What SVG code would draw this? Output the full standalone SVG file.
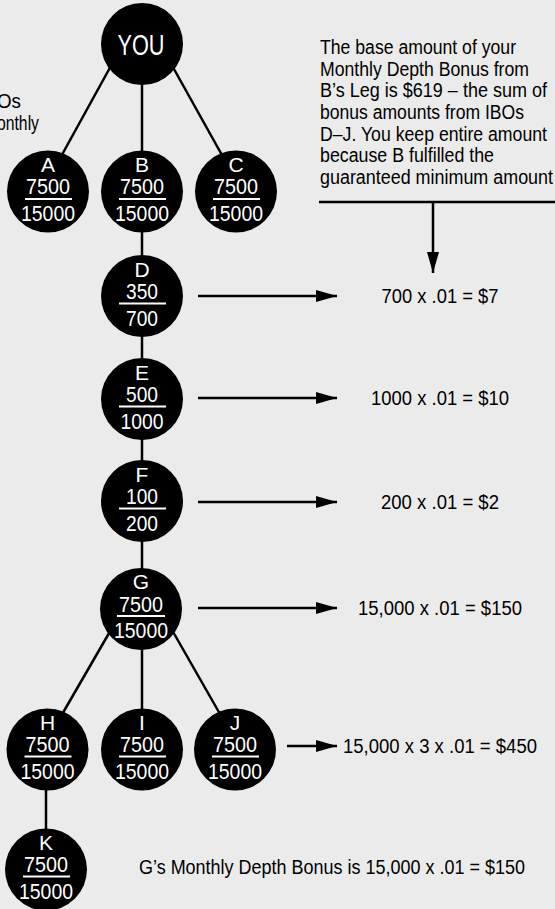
<svg xmlns="http://www.w3.org/2000/svg" width="555" height="909" viewBox="0 0 555 909">
<style>
.bg{fill:#ebebeb}
.node circle{fill:#000}
.lbl{font-family:"Liberation Sans",Arial,sans-serif;fill:#fff;text-anchor:middle;font-size:21px}
.num{font-family:"Liberation Sans",Arial,sans-serif;fill:#fff;text-anchor:middle;font-size:22px}
.bar{stroke:#fff;stroke-width:2}
.conn line{stroke:#000;stroke-width:2.5;fill:none}
.txt{font-family:"Liberation Sans",Arial,sans-serif;fill:#000;font-size:19.5px}
.mid{text-anchor:middle}
</style>
<defs>
<marker id="ah" markerUnits="userSpaceOnUse" markerWidth="21" markerHeight="12" refX="21" refY="6" orient="auto">
<path d="M0,0 L21,6 L0,12 z" fill="#000"/>
</marker>
</defs>
<rect class="bg" x="0" y="0" width="555" height="909"/>
<g id="connectors" class="conn">
<line x1="123" y1="44" x2="42" y2="191"/>
<line x1="142" y1="44" x2="142" y2="296"/>
<line x1="160" y1="44" x2="242" y2="191"/>
<line x1="123" y1="609" x2="42" y2="749"/>
<line x1="142" y1="609" x2="142" y2="749"/>
<line x1="160" y1="609" x2="240" y2="749"/>
<line x1="46" y1="749" x2="46" y2="870"/>
<line x1="142" y1="296" x2="142" y2="609"/>
<line x1="198" y1="296" x2="337" y2="296" marker-end="url(#ah)"/>
<line x1="198" y1="398" x2="337" y2="398" marker-end="url(#ah)"/>
<line x1="198" y1="502" x2="337" y2="502" marker-end="url(#ah)"/>
<line x1="198" y1="608" x2="337" y2="608" marker-end="url(#ah)"/>
<line x1="287" y1="746" x2="337" y2="746" marker-end="url(#ah)"/>
<line x1="319" y1="202" x2="555" y2="202"/>
<line x1="433" y1="202" x2="433" y2="273" marker-end="url(#ah)"/>
</g>
<g id="you" class="node">
<circle cx="142" cy="44" r="41"/>
<text class="lbl" x="141" y="55" style="font-size:30px" textLength="47" lengthAdjust="spacingAndGlyphs">YOU</text>
</g>
<g id="nA" class="node">
<circle cx="48" cy="191.5" r="41"/>
<text class="lbl" x="48" y="172">A</text>
<text class="num" x="48" y="194" textLength="44" lengthAdjust="spacingAndGlyphs">7500</text>
<line class="bar" x1="25" y1="199" x2="72" y2="199"/>
<text class="num" x="48" y="221" textLength="54" lengthAdjust="spacingAndGlyphs">15000</text>
</g>
<g id="nB" class="node">
<circle cx="142" cy="191.5" r="41"/>
<text class="lbl" x="142" y="172">B</text>
<text class="num" x="142" y="194" textLength="44" lengthAdjust="spacingAndGlyphs">7500</text>
<line class="bar" x1="119" y1="199" x2="166" y2="199"/>
<text class="num" x="142" y="221" textLength="54" lengthAdjust="spacingAndGlyphs">15000</text>
</g>
<g id="nC" class="node">
<circle cx="236" cy="191.5" r="41"/>
<text class="lbl" x="236" y="172">C</text>
<text class="num" x="236" y="194" textLength="44" lengthAdjust="spacingAndGlyphs">7500</text>
<line class="bar" x1="213" y1="199" x2="260" y2="199"/>
<text class="num" x="236" y="221" textLength="54" lengthAdjust="spacingAndGlyphs">15000</text>
</g>
<g id="nD" class="node">
<circle cx="142" cy="296" r="41"/>
<text class="lbl" x="142" y="276.5">D</text>
<text class="num" x="142" y="298.5" textLength="32" lengthAdjust="spacingAndGlyphs">350</text>
<line class="bar" x1="119" y1="303.5" x2="166" y2="303.5"/>
<text class="num" x="142" y="325.5" textLength="32" lengthAdjust="spacingAndGlyphs">700</text>
</g>
<g id="nE" class="node">
<circle cx="142" cy="399" r="41"/>
<text class="lbl" x="142" y="379.5">E</text>
<text class="num" x="142" y="401.5" textLength="32" lengthAdjust="spacingAndGlyphs">500</text>
<line class="bar" x1="119" y1="406.5" x2="166" y2="406.5"/>
<text class="num" x="142" y="428.5" textLength="43" lengthAdjust="spacingAndGlyphs">1000</text>
</g>
<g id="nF" class="node">
<circle cx="142" cy="501" r="41"/>
<text class="lbl" x="142" y="481.5">F</text>
<text class="num" x="142" y="503.5" textLength="32" lengthAdjust="spacingAndGlyphs">100</text>
<line class="bar" x1="119" y1="508.5" x2="166" y2="508.5"/>
<text class="num" x="142" y="530.5" textLength="32" lengthAdjust="spacingAndGlyphs">200</text>
</g>
<g id="nG" class="node">
<circle cx="141" cy="609" r="41"/>
<text class="lbl" x="141" y="589">G</text>
<text class="num" x="141" y="611.5" textLength="44" lengthAdjust="spacingAndGlyphs">7500</text>
<line class="bar" x1="117" y1="616" x2="165" y2="616"/>
<text class="num" x="141" y="638" textLength="54" lengthAdjust="spacingAndGlyphs">15000</text>
</g>
<g id="nH" class="node">
<circle cx="47.5" cy="749.5" r="41"/>
<text class="lbl" x="47.5" y="729.5">H</text>
<text class="num" x="47.5" y="752" textLength="44" lengthAdjust="spacingAndGlyphs">7500</text>
<line class="bar" x1="24.5" y1="756.5" x2="71.5" y2="756.5"/>
<text class="num" x="47.5" y="778.5" textLength="54" lengthAdjust="spacingAndGlyphs">15000</text>
</g>
<g id="nI" class="node">
<circle cx="142" cy="749.5" r="41"/>
<text class="lbl" x="142" y="729.5">I</text>
<text class="num" x="142" y="752" textLength="44" lengthAdjust="spacingAndGlyphs">7500</text>
<line class="bar" x1="119" y1="756.5" x2="166" y2="756.5"/>
<text class="num" x="142" y="778.5" textLength="54" lengthAdjust="spacingAndGlyphs">15000</text>
</g>
<g id="nJ" class="node">
<circle cx="235" cy="749.5" r="41"/>
<text class="lbl" x="235" y="729.5">J</text>
<text class="num" x="235" y="752" textLength="44" lengthAdjust="spacingAndGlyphs">7500</text>
<line class="bar" x1="212" y1="756.5" x2="259" y2="756.5"/>
<text class="num" x="235" y="778.5" textLength="54" lengthAdjust="spacingAndGlyphs">15000</text>
</g>
<g id="nK" class="node">
<circle cx="46" cy="869.5" r="41"/>
<text class="lbl" x="46" y="850">K</text>
<text class="num" x="46" y="872" textLength="44" lengthAdjust="spacingAndGlyphs">7500</text>
<line class="bar" x1="23" y1="876.5" x2="70" y2="876.5"/>
<text class="num" x="46" y="898.5" textLength="54" lengthAdjust="spacingAndGlyphs">15000</text>
</g>
<g id="notes">
<text class="txt" x="-3" y="108" textLength="24" lengthAdjust="spacingAndGlyphs">Os</text>
<text class="txt" x="-3" y="129.5" textLength="42" lengthAdjust="spacingAndGlyphs">onthly</text>
<text class="txt" x="320" y="54" textLength="196" lengthAdjust="spacingAndGlyphs">The base amount of your</text>
<text class="txt" x="320" y="75.7" textLength="209" lengthAdjust="spacingAndGlyphs">Monthly Depth Bonus from</text>
<text class="txt" x="320" y="97.3" textLength="227" lengthAdjust="spacingAndGlyphs">B’s Leg is $619 – the sum of</text>
<text class="txt" x="320" y="119" textLength="204" lengthAdjust="spacingAndGlyphs">bonus amounts from IBOs</text>
<text class="txt" x="320" y="140.7" textLength="227" lengthAdjust="spacingAndGlyphs">D–J. You keep entire amount</text>
<text class="txt" x="320" y="162.3" textLength="174" lengthAdjust="spacingAndGlyphs">because B fulfilled the</text>
<text class="txt" x="320" y="184" textLength="233" lengthAdjust="spacingAndGlyphs">guaranteed minimum amount</text>
<text class="txt mid" x="440" y="303" textLength="117" lengthAdjust="spacingAndGlyphs">700 x .01 = $7</text>
<text class="txt mid" x="440" y="405" textLength="138" lengthAdjust="spacingAndGlyphs">1000 x .01 = $10</text>
<text class="txt mid" x="440" y="509" textLength="118" lengthAdjust="spacingAndGlyphs">200 x .01 = $2</text>
<text class="txt mid" x="440" y="615" textLength="164" lengthAdjust="spacingAndGlyphs">15,000 x .01 = $150</text>
<text class="txt mid" x="440" y="753" textLength="194" lengthAdjust="spacingAndGlyphs">15,000 x 3 x .01 = $450</text>
<text class="txt mid" x="332" y="874" textLength="386" lengthAdjust="spacingAndGlyphs">G’s Monthly Depth Bonus is 15,000 x .01 = $150</text>
</g>
</svg>
